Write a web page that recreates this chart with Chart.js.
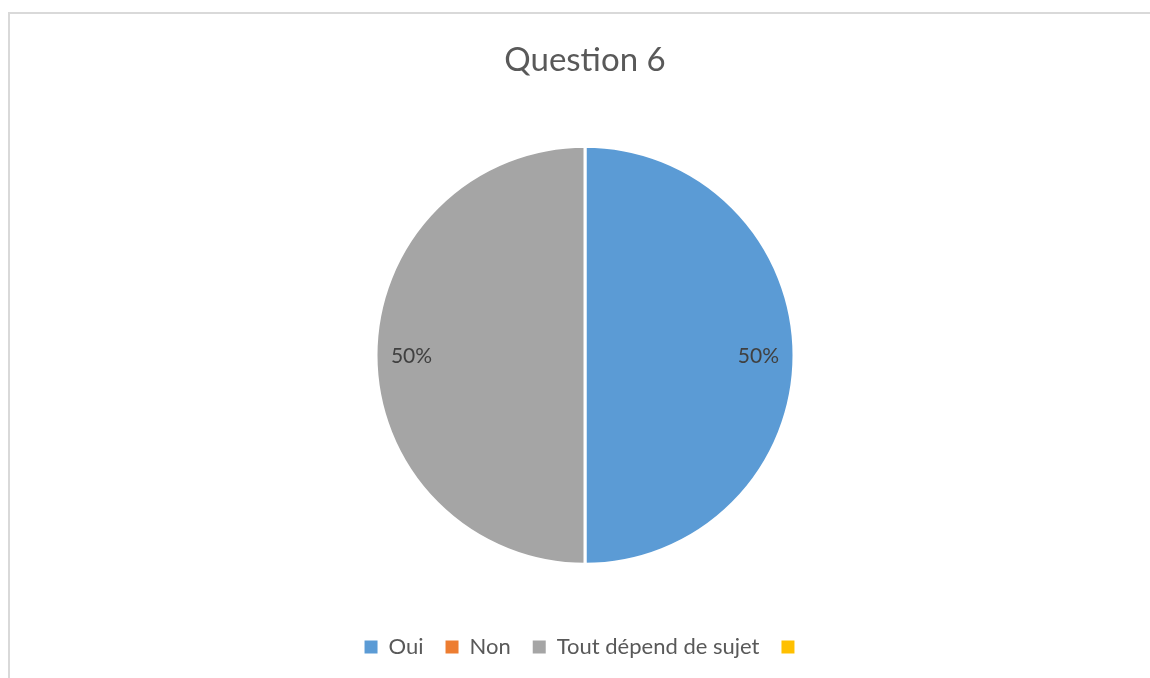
<!DOCTYPE html>
<html>
<head>
    <meta charset="utf-8">
    <title>Question 6</title>
    <script src="https://cdn.jsdelivr.net/npm/chart.js"></script>
    <style>
        html, body {
            margin: 0;
            padding: 0;
            background: #ffffff;
            overflow: hidden;
        }
        #frame {
            position: absolute;
            left: 8px;
            top: 12px;
            width: 1180px;
            height: 700px;
            border: 2px solid #d9d9d9;
        }
        #chartContainer {
            position: absolute;
            left: 0;
            top: 0;
            width: 1150px;
            height: 678px;
        }
    </style>
</head>
<body>
    <div id="frame"></div>
    <div id="chartContainer">
        <canvas id="myChart" width="1150" height="678"></canvas>
    </div>
    <script>
        const labels = ['Oui', 'Non', 'Tout dépend de sujet', ''];
        const values = [50, 0, 50, 0];
        const colors = ['#5b9bd5', '#ed7d31', '#a5a5a5', '#ffc000'];

        // pourcentages dessinés à l'intérieur de chaque part
        const pctLabels = {
            id: 'pctLabels',
            afterDatasetsDraw(chart) {
                const ctx = chart.ctx;
                const meta = chart.getDatasetMeta(0);
                const total = values.reduce((a, b) => a + b, 0);
                ctx.save();
                ctx.font = '21px Lato, "Liberation Sans", sans-serif';
                ctx.fillStyle = '#404040';
                ctx.textAlign = 'center';
                ctx.textBaseline = 'middle';
                meta.data.forEach((arc, i) => {
                    if (!values[i]) return;
                    const p = arc.getProps(['x', 'y', 'startAngle', 'endAngle', 'outerRadius'], true);
                    const mid = (p.startAngle + p.endAngle) / 2;
                    const r = p.outerRadius * 0.83;
                    const pct = Math.round(values[i] / total * 100) + '%';
                    ctx.fillText(pct, p.x + Math.cos(mid) * r, p.y + 1 + Math.sin(mid) * r);
                });
                ctx.restore();
            }
        };

        const ctx = document.getElementById('myChart').getContext('2d');
        const myChart = new Chart(ctx, {
            type: 'pie',
            data: {
                labels: labels,
                datasets: [{
                    data: values,
                    backgroundColor: colors,
                    borderColor: '#ffffff',
                    borderWidth: 3,
                    radius: 209
                }]
            },
            options: {
                responsive: false,
                animation: false,
                layout: {
                    padding: { top: 19, left: 20, right: 0, bottom: 10 }
                },
                plugins: {
                    title: {
                        display: true,
                        text: 'Question 6',
                        color: '#595959',
                        font: { family: 'Lato, "Liberation Sans", sans-serif', size: 33, weight: 'normal' },
                        padding: { top: 22, bottom: 16 }
                    },
                    legend: {
                        position: 'bottom',
                        labels: {
                            color: '#595959',
                            font: { family: 'Lato, "Liberation Sans", sans-serif', size: 22 },
                            boxWidth: 13,
                            boxHeight: 13,
                            padding: 22,
                            // carrés pleins, sans le contour blanc des parts
                            generateLabels(chart) {
                                const items = Chart.overrides.pie.plugins.legend.labels.generateLabels(chart);
                                items.forEach(it => { it.lineWidth = 0; it.strokeStyle = it.fillStyle; });
                                return items;
                            }
                        }
                    },
                    tooltip: { enabled: false }
                }
            },
            plugins: [pctLabels]
        });
    </script>
</body>
</html>
